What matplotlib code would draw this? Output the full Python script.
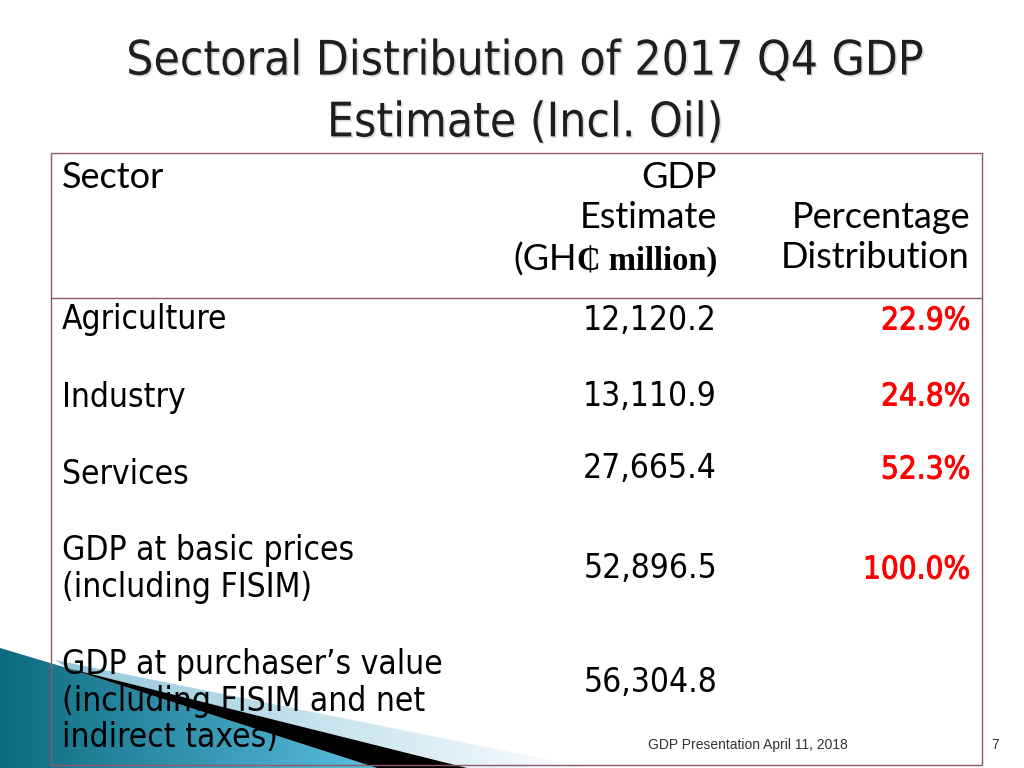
#!/usr/bin/env python3

import matplotlib
matplotlib.use('Agg')
import matplotlib.pyplot as plt
import matplotlib.patheffects as pe
import numpy as np
from matplotlib.patches import Polygon, Rectangle

# Table data
title = 'Sectoral Distribution of 2017 Q4 GDP\nEstimate (Incl. Oil)'
sectors = ['Agriculture', 'Industry', 'Services',
           'GDP at basic prices\n(including FISIM)',
           'GDP at purchaser\u2019s value\n(including FISIM and net\nindirect taxes)']
gdp_estimate = [12120.2, 13110.9, 27665.4, 52896.5, 56304.8]
pct_share = [22.9, 24.8, 52.3, 100.0, None]

# Row centres (pixels from top)
row_label_y = [320, 397, 475, 569, 701]
row_value_y = [320, 396, 469, 569, 682]

fig = plt.figure(figsize=(10.24, 7.68), dpi=100)
ax = fig.add_axes([0, 0, 1, 1])
ax.set_xlim(0, 1024)
ax.set_ylim(768, 0)
ax.axis('off')

head_font = ['Lato', 'DejaVu Sans']
body_font = ['DejaVu Sans']
border = '#8c5a6a'

# Title
ax.text(525, 92, title, ha='center', va='center', fontsize=34.3,
        family=body_font, stretch='condensed', color='#1e1e1e',
        linespacing=1.4,
        path_effects=[pe.withSimplePatchShadow(offset=(1.2, -1.2),
                                               shadow_rgbFace='#aaaaaa',
                                               alpha=0.4)])

# Decorative shapes at bottom left
def gradient_poly(verts, c0, c1, x0, x1):
    poly = Polygon(verts, closed=True, facecolor='none', edgecolor='none')
    ax.add_patch(poly)
    c0 = np.array(matplotlib.colors.to_rgb(c0))
    c1 = np.array(matplotlib.colors.to_rgb(c1))
    t = np.linspace(0, 1, 256)[None, :, None]
    img = c0 + (c1 - c0) * t
    im = ax.imshow(img, extent=(x0, x1, 768, 600), aspect='auto', zorder=1)
    im.set_clip_path(poly)

gradient_poly([(55, 660), (590, 768), (467, 768), (67, 668)],
              '#8ec6dc', '#ffffff', 40, 600)
gradient_poly([(0, 648), (67, 668), (377, 768), (0, 768)],
              '#0d6b7e', '#5bbde0', 0, 377)
ax.add_patch(Polygon([(67, 668), (467, 768), (377, 768)], closed=True,
                     facecolor='black', edgecolor='none', zorder=2))
ax.set_xlim(0, 1024)
ax.set_ylim(768, 0)

# Table frame
ax.add_patch(Rectangle((51, 153), 931, 612, facecolor='none',
                       edgecolor=border, linewidth=1, zorder=3))
ax.plot([51, 982], [298, 298], color=border, linewidth=1, zorder=3)

# Header
hdr = dict(fontsize=26, family=head_font, color='black', zorder=4, va='center')
ax.text(62, 177, 'Sector', ha='left', **hdr)
ax.text(717, 177, 'GDP', ha='right', **hdr)
ax.text(717, 217, 'Estimate', ha='right', **hdr)
unit = ax.text(717, 261, '\u20b5 million)', ha='right', va='center',
               fontsize=23.5, fontweight='bold',
               family=['Liberation Serif', 'DejaVu Serif'], color='black', zorder=4)
ax.text(970, 217, 'Percentage', ha='right', **hdr)
ax.text(970, 258, 'Distribution', ha='right', **hdr)

fig.canvas.draw()
bb = unit.get_window_extent(fig.canvas.get_renderer())
ax.text(bb.x0, 260, '(GH', ha='right', **hdr)

# Body rows
for name, ly, val, vy, pct in zip(sectors, row_label_y, gdp_estimate,
                                   row_value_y, pct_share):
    ax.text(62, ly, name, ha='left', va='center', fontsize=24,
            family=body_font, stretch='condensed', color='black',
            linespacing=1.15, zorder=4)
    ax.text(717, vy, f'{val:,.1f}', ha='right', va='center', fontsize=24,
            family=body_font, stretch='condensed', color='black', zorder=4)
    if pct is not None:
        ax.text(970, vy + 1, f'{pct:.1f}%', ha='right', va='center',
                fontsize=22.5, family=body_font, stretch='condensed',
                color='#ff0000', zorder=4,
                path_effects=[pe.withStroke(linewidth=0.7, foreground='#ff0000')])

# Footer
ax.text(748, 745, 'GDP Presentation April 11, 2018', ha='center',
        va='center', fontsize=10, family='Liberation Sans', color='#333333')
ax.text(995, 745, '7', ha='center', va='center', fontsize=10,
        family='Liberation Sans', color='#333333')

fig.savefig('out.png', dpi=100)
